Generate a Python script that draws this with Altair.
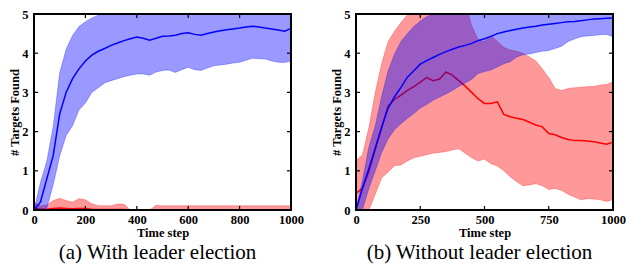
import altair as alt
import pandas as pd

# time grid (steps)
t = list(range(0, 1001, 25))

# ---------- (a) With leader election ----------
a_blue_mean = [0, 0.2, 0.8, 1.4, 2.45, 3.0, 3.35, 3.6, 3.8, 3.95, 4.05, 4.12, 4.2, 4.26, 4.32,
               4.37, 4.41, 4.38, 4.33, 4.38, 4.43, 4.44, 4.46, 4.5, 4.52, 4.48, 4.46, 4.5, 4.54,
               4.57, 4.6, 4.62, 4.64, 4.67, 4.69, 4.67, 4.64, 4.62, 4.59, 4.56, 4.63]
a_blue_hi = [0, 0.7, 1.25, 2.15, 3.5, 4.1, 4.45, 4.68, 4.8, 4.9, 4.97, 5.05, 5.3, 5.3, 5.3,
             5.3, 5.3, 5.3, 5.3, 5.3, 5.3, 5.3, 5.3, 5.3, 5.3, 5.3, 5.3, 5.3, 5.3, 5.3, 5.3,
             5.3, 5.3, 5.3, 5.3, 5.3, 5.3, 5.3, 5.3, 5.3, 5.3]
a_blue_lo = [0, 0, 0.05, 0.65, 1.38, 1.9, 2.15, 2.55, 2.73, 3.0, 3.12, 3.24, 3.3, 3.35, 3.4,
             3.44, 3.47, 3.47, 3.44, 3.52, 3.56, 3.57, 3.51, 3.58, 3.64, 3.58, 3.56, 3.62, 3.68,
             3.7, 3.72, 3.75, 3.77, 3.82, 3.87, 3.86, 3.85, 3.8, 3.77, 3.76, 3.8]
a_red_mean = [0.05, 0.02, 0.02, 0.04, 0.05, 0.04, 0.03, 0.04, 0.04, 0.02, 0.01, 0.01, 0.01, 0.01,
              0.01, 0, 0, 0, 0, 0, 0, 0, 0, 0, 0, 0, 0, 0, 0, 0, 0, 0, 0, 0, 0, 0, 0, 0, 0, 0, 0]
a_red_hi = [0.2, 0.1, 0.13, 0.24, 0.3, 0.24, 0.2, 0.29, 0.26, 0.16, 0.11, 0.11, 0.11, 0.15, 0.15,
            0, 0, 0, 0, 0.12, 0.11, 0.11, 0.11, 0.11, 0.11, 0.11, 0.11, 0.11, 0.11, 0.11, 0.11,
            0.11, 0.11, 0.11, 0.11, 0.11, 0.11, 0.11, 0.11, 0.11, 0.11]
a_red_lo = [0] * 41

# ---------- (b) Without leader election ----------
b_blue_mean = [0, 0.55, 1.05, 1.58, 2.12, 2.6, 2.89, 3.13, 3.39, 3.55, 3.72, 3.81, 3.89, 3.97, 4.04,
               4.1, 4.16, 4.2, 4.25, 4.32, 4.37, 4.43, 4.5, 4.54, 4.58, 4.61, 4.64, 4.67, 4.69,
               4.72, 4.74, 4.76, 4.78, 4.8, 4.81, 4.83, 4.85, 4.87, 4.88, 4.89, 4.9]
b_blue_hi = [0, 0.75, 1.6, 2.15, 2.9, 3.55, 3.98, 4.3, 4.5, 4.68, 4.82, 4.93, 5.0, 5.3, 5.3,
             5.3, 5.3, 5.3, 5.3, 5.3, 5.3, 5.3, 5.3, 5.3, 5.3, 5.3, 5.3, 5.3, 5.3, 5.3, 5.3,
             5.3, 5.3, 5.3, 5.3, 5.3, 5.3, 5.3, 5.3, 5.3, 5.3]
b_blue_lo = [0, 0, 0.55, 1.0, 1.47, 1.82, 2.05, 2.2, 2.34, 2.46, 2.6, 2.69, 2.8, 2.88, 2.96,
             3.05, 3.15, 3.24, 3.33, 3.48, 3.53, 3.57, 3.65, 3.73, 3.78, 3.9, 3.96, 3.98, 4.02,
             4.05, 4.07, 4.12, 4.18, 4.3, 4.36, 4.42, 4.44, 4.45, 4.47, 4.48, 4.42]
b_red_mean = [0.43, 0.55, 0.98, 1.55, 2.1, 2.65, 2.82, 2.93, 3.05, 3.15, 3.26, 3.38, 3.3, 3.34, 3.52,
              3.44, 3.3, 3.16, 3.0, 2.84, 2.72, 2.72, 2.76, 2.44, 2.38, 2.34, 2.31, 2.24, 2.17,
              2.12, 1.95, 1.92, 1.85, 1.8, 1.77, 1.77, 1.76, 1.74, 1.71, 1.68, 1.73]
b_red_hi = [1.26, 1.4, 2.1, 3.0, 3.74, 4.3, 4.56, 4.78, 4.98, 5.3, 5.3, 5.3, 5.3, 5.3, 5.3,
            5.3, 5.3, 5.3, 4.7, 4.35, 4.3, 4.45, 4.3, 4.15, 4.08, 4.05, 4.0, 3.9, 3.8,
            3.6, 3.38, 3.1, 3.05, 3.1, 3.12, 3.13, 3.15, 3.15, 3.19, 3.2, 3.27]
b_red_lo = [0, 0, 0, 0.4, 0.82, 0.97, 1.13, 1.15, 1.25, 1.33, 1.37, 1.41, 1.45, 1.47, 1.49,
            1.53, 1.56, 1.45, 1.33, 1.25, 1.3, 1.18, 1.12, 1.0, 0.85, 0.72, 0.62, 0.64, 0.67,
            0.62, 0.52, 0.55, 0.5, 0.4, 0.33, 0.26, 0.29, 0.28, 0.26, 0.22, 0.26]

x_ticks_a = [0, 200, 400, 600, 800, 1000]
x_ticks_b = [0, 250, 500, 750, 1000]
y_ticks = [0, 1, 2, 3, 4, 5]

W, H = 257, 196
FONT = "Liberation Serif"
BLUE = "#0000ff"
RED = "#ff0000"


def panel(blue, red, xticks, caption):
    xs = alt.Scale(domain=[0, 1000], nice=False, zero=False)
    ys = alt.Scale(domain=[0, 5], nice=False)
    bdf = pd.DataFrame({"t": t, "m": blue[0], "hi": blue[1], "lo": blue[2]})
    rdf = pd.DataFrame({"t": t, "m": red[0], "hi": red[1], "lo": red[2]})

    x_axis = alt.Axis(values=xticks, format="d", title="Time step", grid=False, domain=False,
                      ticks=False, labelFlush=False, labelPadding=3, titlePadding=1,
                      labelFont=FONT, labelFontWeight="bold", labelFontSize=12.5,
                      titleFont=FONT, titleFontWeight="bold", titleFontSize=12.5,
                      labelColor="black", titleColor="black")
    y_axis = alt.Axis(values=y_ticks, format="d", title="# Targets Found", grid=False,
                      domain=False, ticks=False, labelPadding=6, titlePadding=0,
                      labelFlush=False,
                      labelFont=FONT, labelFontWeight="bold", labelFontSize=12.5,
                      titleFont=FONT, titleFontWeight="bold", titleFontSize=12.5,
                      labelColor="black", titleColor="black")

    def X(f):
        return alt.X(f, scale=xs, axis=x_axis)

    def Y(f):
        return alt.Y(f, scale=ys, axis=y_axis)

    def band(df, color):
        area = alt.Chart(df).mark_area(color=color, opacity=0.4, clip=True).encode(
            x=X("t:Q"), y=Y("lo:Q"), y2="hi:Q")
        up = alt.Chart(df).mark_line(color=color, opacity=0.35, strokeWidth=0.8, clip=True).encode(
            x=X("t:Q"), y=Y("hi:Q"))
        low = alt.Chart(df).mark_line(color=color, opacity=0.35, strokeWidth=0.8, clip=True).encode(
            x=X("t:Q"), y=Y("lo:Q"))
        return [area, up, low]

    def mean_line(df, color):
        return alt.Chart(df).mark_line(color=color, strokeWidth=1.5, clip=True).encode(
            x=X("t:Q"), y=Y("m:Q"))

    xt = pd.DataFrame({"v": xticks})
    yt = pd.DataFrame({"v": y_ticks})
    tick_layers = [
        alt.Chart(xt).mark_rule(color="black", strokeWidth=1.2).encode(
            x=X("v:Q"), y=alt.value(H), y2=alt.value(H - 4)),
        alt.Chart(xt).mark_rule(color="black", strokeWidth=1.2).encode(
            x=X("v:Q"), y=alt.value(0), y2=alt.value(4)),
        alt.Chart(yt).mark_rule(color="black", strokeWidth=1.2).encode(
            y=Y("v:Q"), x=alt.value(0), x2=alt.value(4)),
        alt.Chart(yt).mark_rule(color="black", strokeWidth=1.2).encode(
            y=Y("v:Q"), x=alt.value(W - 4), x2=alt.value(W)),
    ]
    frame = alt.Chart(pd.DataFrame({"f": [0]})).mark_rect(
        filled=False, stroke="#000000", strokeWidth=2, opacity=1, strokeOpacity=1).encode(
        x=alt.value(0), x2=alt.value(W), y=alt.value(0), y2=alt.value(H))

    layers = (band(rdf, RED) + [mean_line(rdf, RED)]
              + band(bdf, BLUE) + [mean_line(bdf, BLUE)] + tick_layers + [frame])
    return alt.layer(*layers).properties(
        width=W, height=H,
        title=alt.TitleParams(caption, orient="bottom", font=FONT, fontSize=21,
                              fontWeight="normal", color="black", offset=3, dx=-5))


left = panel((a_blue_mean, a_blue_hi, a_blue_lo), (a_red_mean, a_red_hi, a_red_lo),
             x_ticks_a, "(a) With leader election")
right = panel((b_blue_mean, b_blue_hi, b_blue_lo), (b_red_mean, b_red_hi, b_red_lo),
              x_ticks_b, "(b) Without leader election")

chart = alt.hconcat(left, right, spacing=65, bounds="flush").properties(
    padding={"left": 0, "top": -1, "right": 0, "bottom": 0}
).configure_view(strokeWidth=0).configure(background="white")

chart.save("out.html", embed_options={"renderer": "svg", "actions": False})
